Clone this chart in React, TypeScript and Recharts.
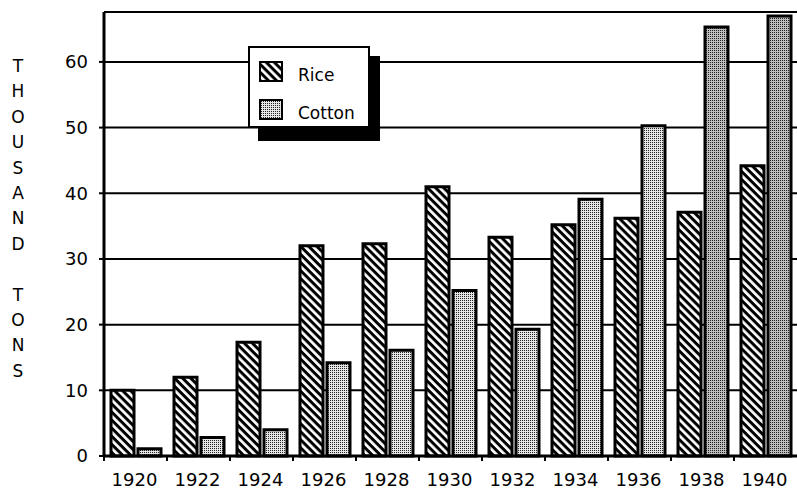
import { BarChart, Bar, XAxis, YAxis, CartesianGrid, Cell } from "recharts";

// values (thousand tons)
const years = ["1920", "1922", "1924", "1926", "1928", "1930", "1932", "1934", "1936", "1938", "1940"];
const rice = [10, 12, 17.3, 32, 32.3, 41, 33.3, 35.2, 36.2, 37.1, 44.2];
const cotton = [1.1, 2.8, 4, 14.2, 16.1, 25.2, 19.3, 39.1, 50.3, 65.3, 67];
const yTicks = [0, 10, 20, 30, 40, 50, 60];
const axisLabel = "THOUSAND TONS";

const data = years.map((year, i) => ({ year, rice: rice[i], cotton: cotton[i] }));

const FONT = "'DejaVu Sans', sans-serif";
const HALF_BAND = 693 / 22;

function YearTick(props: any) {
  const { x, y, payload } = props;
  return (
    <g>
      <line x1={x - HALF_BAND} x2={x - HALF_BAND} y1={y - 5} y2={y} stroke="#000" strokeWidth={2} />
      <text x={x - 1} y={y + 25} textAnchor="middle" fontFamily={FONT} fontSize={18} fill="#000">
        {payload.value}
      </text>
    </g>
  );
}

function Patterns() {
  return (
    <svg width={0} height={0} style={{ position: "absolute" }}>
      <defs>
        <pattern id="riceHatch" patternUnits="userSpaceOnUse" width={5.7} height={5.7} patternTransform="rotate(45)">
          <rect width={5.7} height={5.7} fill="#fff" />
          <rect width={5.7} height={3} fill="#000" />
        </pattern>
        <pattern id="cottonDots" patternUnits="userSpaceOnUse" width={2} height={2}>
          <rect width={2} height={2} fill="#e6e6e6" />
          <rect width={1} height={1} fill="#222" />
        </pattern>
        <pattern id="cottonDotsDark" patternUnits="userSpaceOnUse" width={2} height={2}>
          <rect width={2} height={2} fill="#bdbdbd" />
          <rect width={1} height={1} fill="#222" />
        </pattern>
      </defs>
    </svg>
  );
}

function LegendBox() {
  const swatch = (fill: string) => (
    <svg width={24} height={21} style={{ display: "block" }}>
      <rect x={1} y={1} width={22} height={19} fill={fill} stroke="#000" strokeWidth={2} />
    </svg>
  );
  return (
    <>
      <div style={{ position: "absolute", left: 258, top: 56, width: 122, height: 85, background: "#000" }} />
      <div
        style={{
          position: "absolute",
          left: 248,
          top: 46,
          width: 118,
          height: 78,
          background: "#fff",
          border: "2px solid #000",
          fontFamily: FONT,
          fontSize: 17,
        }}
      >
        <div style={{ position: "absolute", left: 9, top: 9, display: "flex", alignItems: "center" }}>
          {swatch("url(#riceHatch)")}
          <span style={{ marginLeft: 15, paddingTop: 8 }}>Rice</span>
        </div>
        <div style={{ position: "absolute", left: 9, top: 47, display: "flex", alignItems: "center" }}>
          {swatch("url(#cottonDots)")}
          <span style={{ marginLeft: 15, paddingTop: 8 }}>Cotton</span>
        </div>
      </div>
    </>
  );
}

export default function App() {
  return (
    <div style={{ position: "absolute", left: 0, top: 0, width: 797, height: 493, background: "#fff" }}>
      <Patterns />
      <BarChart
        width={797}
        height={493}
        data={data}
        margin={{ top: 12, right: 0, bottom: 7, left: 0 }}
        barSize={23}
        barGap={4}
      >
        <CartesianGrid vertical={false} stroke="#000" strokeWidth={2} />
        <XAxis
          dataKey="year"
          axisLine={{ stroke: "#000", strokeWidth: 3 }}
          tickLine={false}
          tickSize={5}
          tickMargin={0}
          height={30}
          interval={0}
          tick={<YearTick />}
        />
        <YAxis
          width={104}
          domain={[0, 67.6]}
          ticks={yTicks}
          axisLine={{ stroke: "#000", strokeWidth: 3 }}
          tickLine={{ stroke: "#000", strokeWidth: 2 }}
          tickSize={5}
          tickMargin={11}
          tick={{ fill: "#000", fontSize: 18, fontFamily: FONT }}
        />
        <Bar dataKey="rice" fill="url(#riceHatch)" stroke="#000" strokeWidth={3} isAnimationActive={false} />
        <Bar dataKey="cotton" stroke="#000" strokeWidth={3} isAnimationActive={false}>
          {data.map((d, i) => (
            <Cell key={d.year} fill={i >= 9 ? "url(#cottonDotsDark)" : "url(#cottonDots)"} />
          ))}
        </Bar>
      </BarChart>
      <LegendBox />
      <div
        style={{
          position: "absolute",
          left: 8,
          top: 54,
          width: 20,
          textAlign: "center",
          fontFamily: FONT,
          fontSize: 17,
          lineHeight: "25.4px",
        }}
      >
        {axisLabel.split("").map((ch, i) => (
          <div key={i} style={{ height: 25.4 }}>
            {ch === " " ? "\u00a0" : ch}
          </div>
        ))}
      </div>
    </div>
  );
}
